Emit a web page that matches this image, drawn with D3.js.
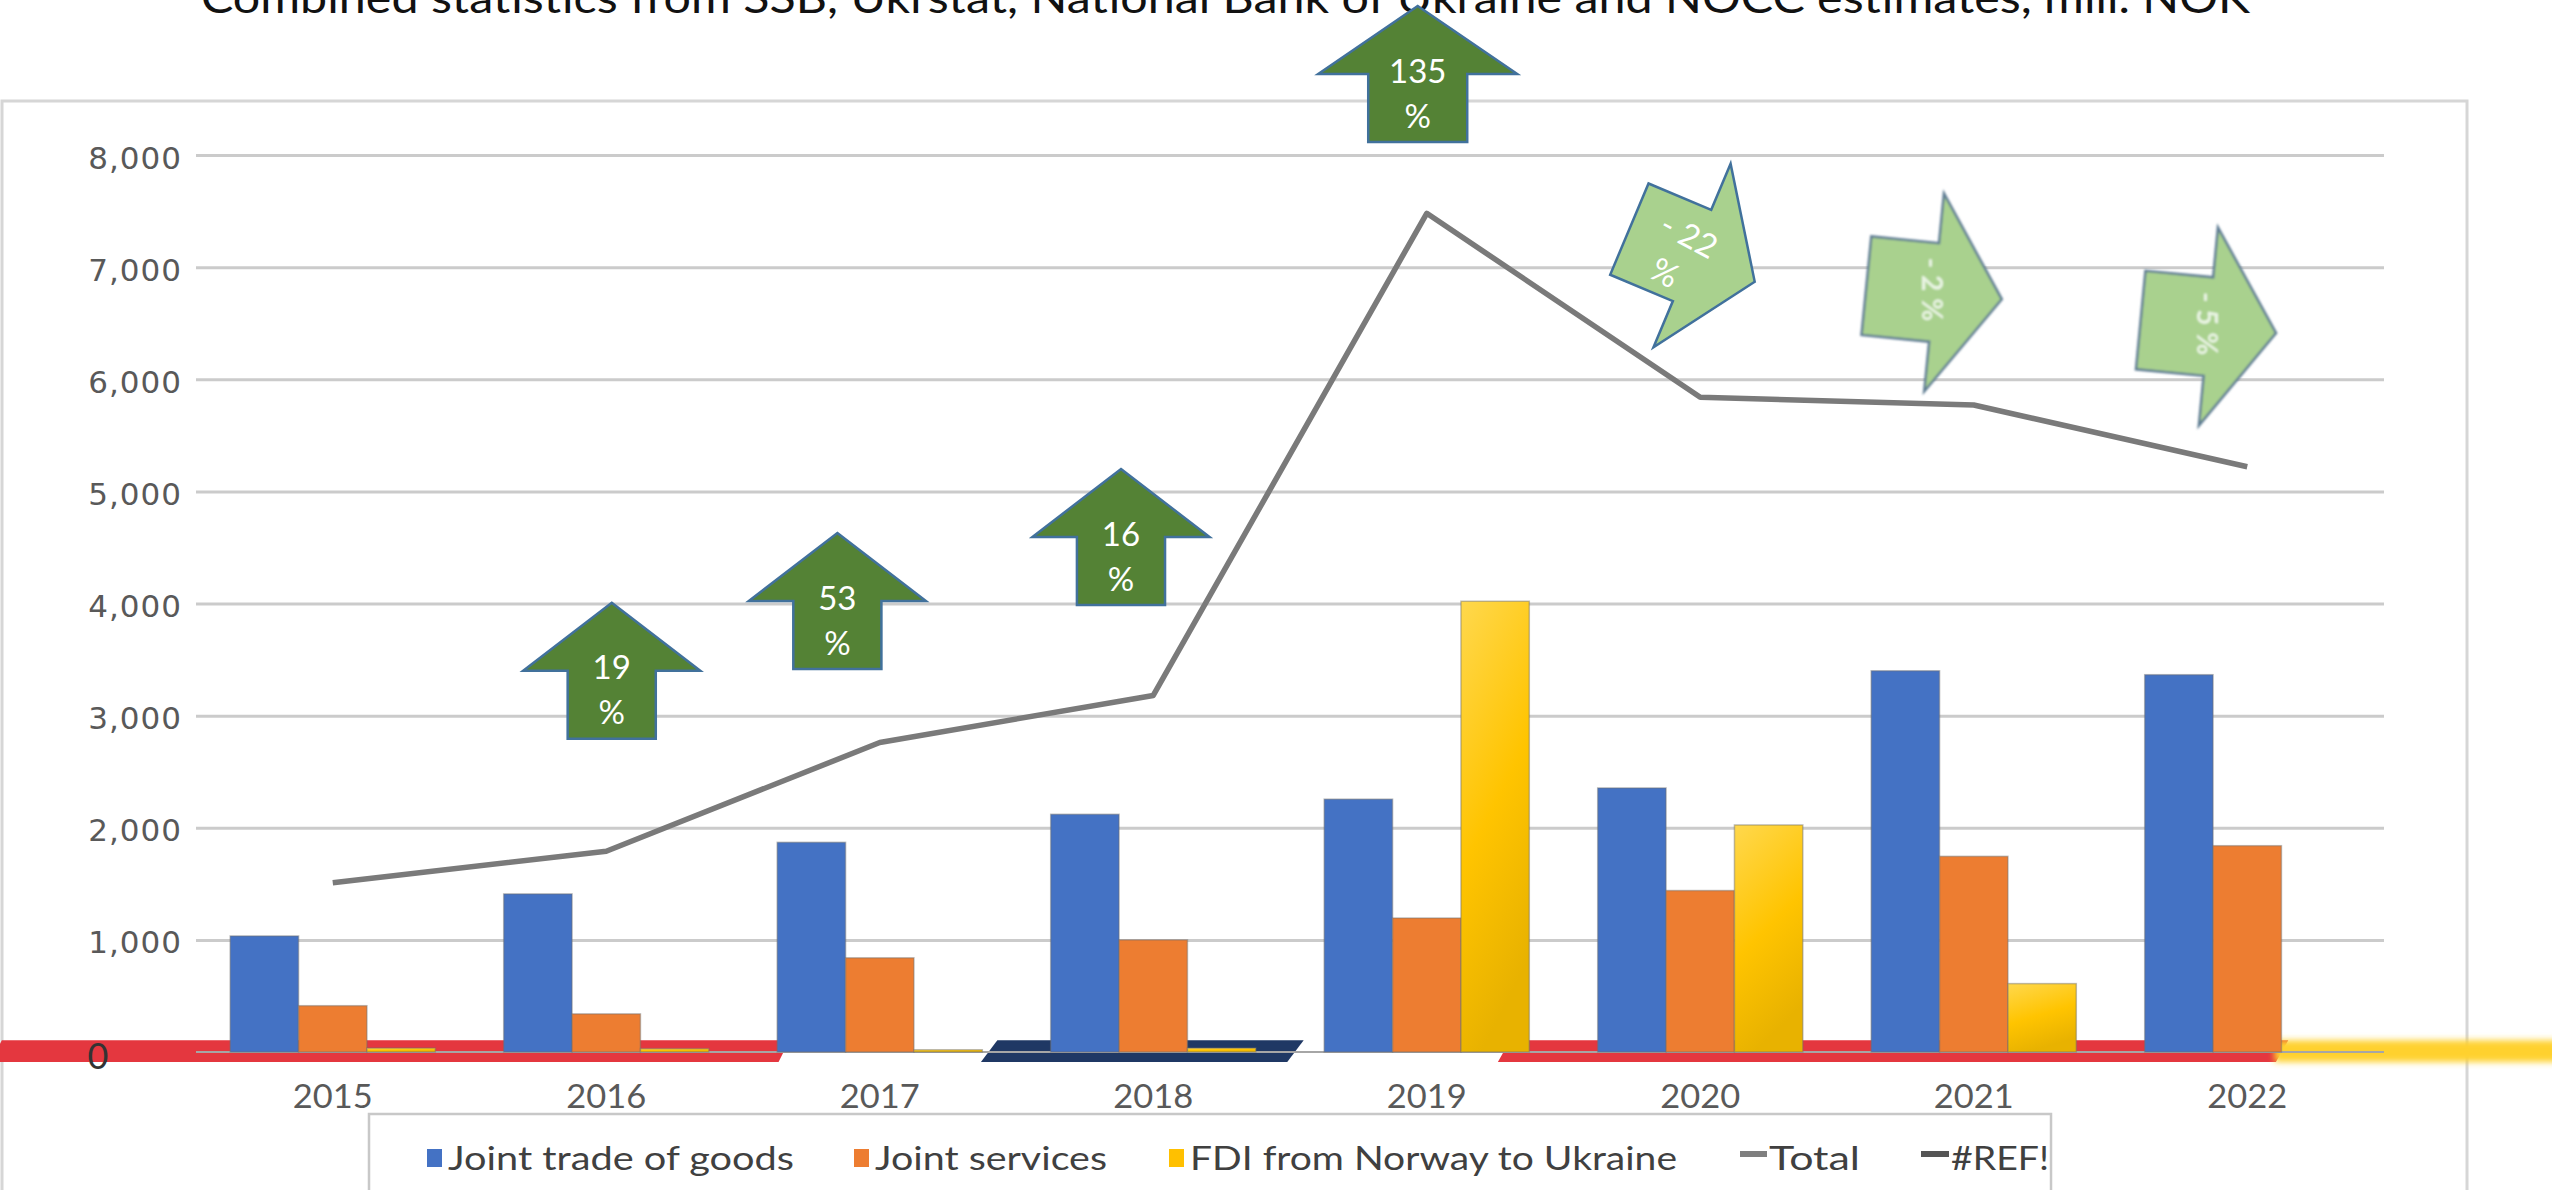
<!DOCTYPE html>
<html>
<head>
<meta charset="utf-8">
<script src="https://cdn.jsdelivr.net/npm/d3@7"></script>
<style>
  body { margin: 0; background: #fff; }
  svg { display: block; }
</style>
</head>
<body>
<div id="chart"></div>
<script>
// data, mill. NOK
const years = ['2015', '2016', '2017', '2018', '2019', '2020', '2021', '2022'];
const goods = [1035, 1410, 1870, 2120, 2255, 2355, 3400, 3365];
const services = [413, 340, 840, 1000, 1195, 1440, 1745, 1840];
const fdi = [35, 30, 20, 35, 4020, 2025, 610, 0];
const total = [1510, 1790, 2760, 3180, 7480, 5840, 5770, 5220];
const yTicks = [0, 1000, 2000, 3000, 4000, 5000, 6000, 7000, 8000];
const seriesNames = ['Joint trade of goods', 'Joint services', 'FDI from Norway to Ukraine'];
const lineNames = ['Total', '#REF!'];
const titleText = 'Combined statistics from SSB, Ukrstat, National Bank of Ukraine and NOCC estimates, mill. NOK';

// year-on-year change arrows: label, anchor (category units, value), turn
const changes = [
    { pct: '19', at: [1.52, 3400], turn: 0, kind: 'up', size: 0.89 },
    { pct: '53', at: [2.345, 4022], turn: 0, kind: 'up', size: 0.89 },
    { pct: '16', at: [3.382, 4593], turn: 0, kind: 'up', size: 0.89 },
    { pct: '135', at: [4.467, 8722], turn: 0, kind: 'up', size: 1 },
    { pct: '- 22', at: [5.47, 7104], turn: 22.8, kind: 'down', size: 1 },
    { pct: '- 2', at: [6.355, 6774], turn: 5.7, kind: 'flat', size: 1 },
    { pct: '- 5', at: [7.358, 6470], turn: 5.5, kind: 'flat', size: 1 }
];

const width = 2552;
const height = 1190;
const margin = { top: 155, right: 168, bottom: 138, left: 196 };
const chartWidth = width - margin.left - margin.right;
const barColors = ['#4472C4', '#ED7D31', 'url(#goldFill)'];
const legendColors = ['#4472C4', '#ED7D31', '#FFC000'];

const svg = d3.select('#chart')
  .append('svg')
    .attr('width', width)
    .attr('height', height);

const defs = svg.append('defs');
const gold = defs.append('linearGradient')
    .attr('id', 'goldFill')
    .attr('x1', 0).attr('y1', 0).attr('x2', 0.3).attr('y2', 1);
gold.append('stop').attr('offset', '0%').attr('stop-color', '#FFD84D');
gold.append('stop').attr('offset', '55%').attr('stop-color', '#FFC400');
gold.append('stop').attr('offset', '100%').attr('stop-color', '#E8B200');

defs.append('filter').attr('id', 'soft')
    .attr('x', '-20%').attr('y', '-20%').attr('width', '140%').attr('height', '140%')
  .append('feGaussianBlur').attr('stdDeviation', 1.1);
defs.append('filter').attr('id', 'glow')
    .attr('x', '-20%').attr('y', '-200%').attr('width', '140%').attr('height', '500%')
  .append('feGaussianBlur').attr('stdDeviation', 3);

// zero sits at 1052
const y = d3.scaleLinear()
    .domain([0, 8000])
    .range([1052, margin.top]);

const x = d3.scaleBand()
    .domain(years)
    .range([margin.left, margin.left + chartWidth])
    .paddingInner(0.25)
    .paddingOuter(0.125);

const xSub = d3.scaleBand()
    .domain(d3.range(3))
    .range([0, x.bandwidth()]);

// continuous category units, for decorations and annotations
const xi = d3.scaleLinear()
    .domain([0, years.length])
    .range([margin.left, margin.left + chartWidth]);

// chart frame
svg.append('rect')
    .attr('x', 2).attr('y', 101)
    .attr('width', 2465).attr('height', 1200)
    .attr('fill', 'none')
    .attr('stroke', '#d6d6d6')
    .attr('stroke-width', 3);

// title (cut at the top edge like the picture)
svg.append('text')
    .attr('x', 201)
    .attr('y', 13)
    .attr('textLength', 2049)
    .attr('lengthAdjust', 'spacingAndGlyphs')
    .style('font-family', 'Lato, "Open Sans", sans-serif')
    .style('font-size', '42px')
    .style('fill', '#111')
    .text(titleText);

// coloured stripes along the baseline
const stripes = [
    { from: -0.75, to: 2.17, slant: 0.04, color: '#E4373F' },
    { from: 2.87, to: 4.05, slant: 0.06, color: '#1F3864' },
    { from: 4.76, to: 7.65, slant: 0.045, color: '#E4373F' }
];
const stripeTop = 105;
const stripeBottom = -90;

svg.append('g')
  .selectAll('polygon')
  .data(stripes)
  .join('polygon')
    .attr('points', d => [
        [xi(d.from + d.slant), y(stripeTop)],
        [xi(d.to), y(stripeTop)],
        [xi(d.to - d.slant), y(stripeBottom)],
        [xi(d.from), y(stripeBottom)]
    ].join(' '))
    .attr('fill', d => d.color);

svg.append('rect')
    .attr('x', xi(7.6))
    .attr('y', y(stripeTop))
    .attr('width', xi(9.2) - xi(7.6))
    .attr('height', y(stripeBottom) - y(stripeTop))
    .attr('fill', '#FFD12E')
    .attr('filter', 'url(#glow)');

// y axis with gridlines
const yAxis = svg.append('g')
    .attr('class', 'y-axis')
    .attr('transform', `translate(${margin.left},0)`)
    .call(d3.axisLeft(y)
        .tickValues(yTicks)
        .tickSize(-chartWidth)
        .tickPadding(14)
        .tickFormat(d3.format(',')));

yAxis.select('.domain').remove();
yAxis.selectAll('.tick line')
    .attr('stroke', '#cbcbcb')
    .attr('stroke-width', 3)
    .attr('display', d => d === 0 ? 'none' : null);
yAxis.selectAll('.tick text')
    .attr('dy', '0.42em')
    .style('font-family', '"DejaVu Sans", Verdana, sans-serif')
    .style('font-size', '31px')
    .style('letter-spacing', '1px')
    .style('fill', '#595959');
yAxis.selectAll('.tick')
  .filter(d => d === 0)
  .select('text')
    .attr('x', 98 - margin.left)
    .attr('dy', '0.45em')
    .attr('text-anchor', 'middle')
    .style('font-family', 'Lato, sans-serif')
    .style('font-size', '36px')
    .style('letter-spacing', '0px')
    .style('fill', '#333');

// zero line
svg.append('line')
    .attr('x1', margin.left).attr('x2', margin.left + chartWidth)
    .attr('y1', y(0)).attr('y2', y(0))
    .attr('stroke', '#a6a6a6')
    .attr('stroke-width', 2);

// bars
const seriesValues = [goods, services, fdi];
const groups = svg.append('g')
  .selectAll('g')
  .data(years)
  .join('g')
    .attr('transform', d => `translate(${x(d)},0)`);

groups.selectAll('rect')
  .data((d, i) => seriesValues.map((s, k) => ({ k: k, v: s[i] })))
  .join('rect')
    .attr('x', d => xSub(d.k))
    .attr('y', d => y(d.v))
    .attr('width', xSub.bandwidth())
    .attr('height', d => y(0) - y(d.v))
    .attr('fill', d => barColors[d.k])
    .attr('stroke', 'rgba(110,110,110,0.45)')
    .attr('stroke-width', 1.5)
    .attr('display', d => d.v > 0 ? null : 'none');

// total line
const line = d3.line()
    .x((d, i) => x(years[i]) + x.bandwidth() / 2)
    .y(d => y(d));

svg.append('path')
    .datum(total)
    .attr('d', line)
    .attr('fill', 'none')
    .attr('stroke', '#7a7a7a')
    .attr('stroke-width', 5.5)
    .attr('stroke-linejoin', 'round');

// category labels
const xAxis = svg.append('g')
    .attr('transform', `translate(0,${y(0)})`)
    .call(d3.axisBottom(x).tickSize(0));

xAxis.select('.domain').remove();
xAxis.selectAll('.tick text')
    .attr('y', 44)
    .attr('dy', '0.36em')
    .attr('textLength', 80)
    .attr('lengthAdjust', 'spacingAndGlyphs')
    .style('font-family', 'Lato, sans-serif')
    .style('font-size', '32px')
    .style('fill', '#595959');

// legend
const legend = svg.append('g').attr('class', 'legend');
legend.append('rect')
    .attr('x', 369).attr('y', 1114)
    .attr('width', 1682).attr('height', 90)
    .attr('fill', '#fff')
    .attr('stroke', '#c8c8c8')
    .attr('stroke-width', 2.5);

const legendItems = [
    { name: seriesNames[0], mark: 'box', color: legendColors[0], mx: 427, tx: 448, tl: 346 },
    { name: seriesNames[1], mark: 'box', color: legendColors[1], mx: 854, tx: 875, tl: 232 },
    { name: seriesNames[2], mark: 'box', color: legendColors[2], mx: 1169, tx: 1190, tl: 487 },
    { name: lineNames[0], mark: 'line', color: '#7f7f7f', mx: 1740, tx: 1769, tl: 91 },
    { name: lineNames[1], mark: 'line', color: '#555', mx: 1921, tx: 1951, tl: 98 }
];
const legendY = 1158;

legend.selectAll('.mark-box')
  .data(legendItems.filter(d => d.mark === 'box'))
  .join('rect')
    .attr('class', 'mark-box')
    .attr('x', d => d.mx)
    .attr('y', legendY - 9)
    .attr('width', 15)
    .attr('height', 18)
    .attr('fill', d => d.color);

legend.selectAll('.mark-line')
  .data(legendItems.filter(d => d.mark === 'line'))
  .join('line')
    .attr('class', 'mark-line')
    .attr('x1', d => d.mx).attr('x2', d => d.tx - 2)
    .attr('y1', legendY - 4).attr('y2', legendY - 4)
    .attr('stroke', d => d.color)
    .attr('stroke-width', 6);

legend.selectAll('text')
  .data(legendItems)
  .join('text')
    .attr('x', d => d.tx)
    .attr('y', legendY)
    .attr('dy', '0.36em')
    .attr('textLength', d => d.tl)
    .attr('lengthAdjust', 'spacingAndGlyphs')
    .style('font-family', 'Lato, sans-serif')
    .style('font-size', '33px')
    .style('fill', '#404040')
    .text(d => d.name);

// change arrows
function arrowPoints(s) {
    const hw = 99.5 * s, sw = 49.5 * s, hl = 68, sl = 68;
    return [[0, -hl], [hw, 0], [sw, 0], [sw, sl], [-sw, sl], [-sw, 0], [-hw, 0]].join(' ');
}

const notes = svg.append('g')
  .selectAll('g')
  .data(changes)
  .join('g')
    .attr('transform', d => `translate(${xi(d.at[0])},${y(d.at[1])})`)
    .attr('filter', d => d.kind === 'flat' ? 'url(#soft)' : null);

notes.append('polygon')
    .attr('points', d => arrowPoints(d.size))
    .attr('transform', d => d.kind === 'up' ? null : `rotate(${90 + d.turn})`)
    .attr('fill', d => d.kind === 'up' ? '#548235' : '#A9D18E')
    .attr('stroke', d => d.kind === 'flat' ? '#5f7d93' : '#41719C')
    .attr('stroke-width', 2.5)
    .attr('stroke-linejoin', 'miter');

const noteFont = sel => sel
    .attr('text-anchor', 'middle')
    .attr('dy', '0.35em')
    .style('font-family', 'Lato, sans-serif')
    .style('fill', '#fff');

notes.filter(d => d.kind === 'up').append('text')
    .attr('y', -3)
    .call(noteFont)
    .style('font-size', '33px')
    .text(d => d.pct);
notes.filter(d => d.kind === 'up').append('text')
    .attr('y', 42)
    .call(noteFont)
    .style('font-size', '33px')
    .text('%');

const tilted = notes.filter(d => d.kind === 'down')
  .append('g')
    .attr('transform', 'rotate(28)');
tilted.append('text')
    .attr('x', -12).attr('y', -16)
    .call(noteFont)
    .style('font-size', '33px')
    .text(d => d.pct);
tilted.append('text')
    .attr('x', -16).attr('y', 28)
    .call(noteFont)
    .style('font-size', '33px')
    .text('%');

notes.filter(d => d.kind === 'flat').append('text')
    .attr('transform', 'translate(-2,-3) rotate(90)')
    .call(noteFont)
    .style('font-size', '28px')
    .style('font-weight', 'bold')
    .style('fill-opacity', 0.75)
    .text(d => d.pct + ' %');
</script>
</body>
</html>
